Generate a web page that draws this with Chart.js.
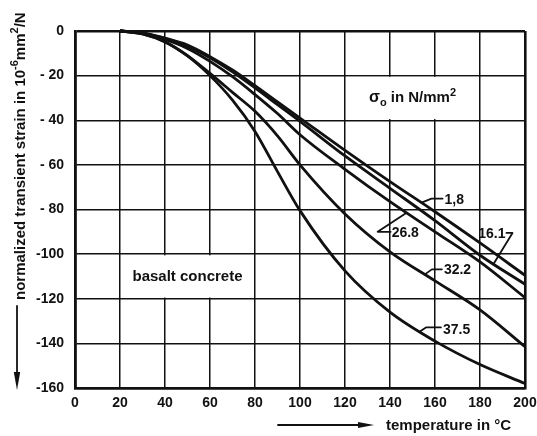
<!DOCTYPE html>
<html>
<head>
<meta charset="utf-8">
<script src="https://cdn.jsdelivr.net/npm/chart.js@4.4.1/dist/chart.umd.min.js"></script>
<style>
  html, body { margin: 0; padding: 0; background: #fff; }
  #wrap { width: 537px; height: 436px; }
</style>
</head>
<body>
<div id="wrap"><canvas id="c" width="537" height="436"></canvas></div>
<script>
// Temperature in °C
const temperatures = [20, 30, 40, 50, 60, 70, 80, 90, 100, 120, 140, 160, 180, 200];

// Normalized transient strain (10^-6 mm²/N) for each initial stress σ0 (N/mm²)
const strain_1_8  = [0, -0.8, -3.2, -6.3, -11.5, -17.5, -24.5, -31.8, -39, -53.5, -67.5, -81, -95, -109.5];
const strain_16_1 = [0, -0.9, -3.3, -6.8, -12, -18.3, -25.5, -33, -40.5, -56, -70.5, -85, -100.5, -113.5];
const strain_26_8 = [0, -1.0, -3.8, -7.8, -13.6, -20.5, -28.5, -37, -46.5, -62, -76.5, -90, -103.5, -119.5];
const strain_32_2 = [0, -1.3, -4.8, -11, -19, -27.5, -36, -47, -60, -82, -99, -112, -125, -141.5];
const strain_37_5 = [0, -1.3, -4.9, -11.2, -20, -31, -45, -63, -80.5, -107.5, -126, -139, -149.5, -158];

const stressLabels = ['1,8', '16.1', '26.8', '32.2', '37.5'];
const seriesValues = [strain_1_8, strain_16_1, strain_26_8, strain_32_2, strain_37_5];

// Axis ranges and tick spacing
const xRange = [0, 200];
const xStep = 20;
const yRange = [-160, 0];
const yStep = 20;

const INK = '#111';
const FONT = '"Liberation Sans", Arial, sans-serif';

// Leader lines: tip sits on the curve at temperature t, path offsets in px from the tip
const leaders = [
  { s: 0, t: 154,   path: [[10, -4], [21, -4]],  tx: 23,  ty: -4, align: 'left'  },
  { s: 2, t: 147.4, path: [[-29, 19], [-16, 19]], tx: -15, ty: 19, align: 'left'  },
  { s: 1, t: 186,   path: [[19, -31], [13, -31]], tx: 12,  ty: -31, align: 'right' },
  { s: 3, t: 155.5, path: [[7, -5], [17, -5]],   tx: 19,  ty: -5, align: 'left'  },
  { s: 4, t: 153.3, path: [[6, -4], [21, -4]],   tx: 23,  ty: -2, align: 'left'  }
];

function valueAt(arr, t) {
  for (let i = 0; i < temperatures.length - 1; i++) {
    const a = temperatures[i], b = temperatures[i + 1];
    if (t >= a && t <= b) {
      return arr[i] + (arr[i + 1] - arr[i]) * (t - a) / (b - a);
    }
  }
  return arr[arr.length - 1];
}

function textRuns(ctx, x, y, runs) {
  // runs: [text, size, dy]
  let cx = x;
  for (const [txt, size, dy] of runs) {
    ctx.font = 'bold ' + size + 'px ' + FONT;
    ctx.fillText(txt, cx, y + dy);
    cx += ctx.measureText(txt).width;
  }
  return cx - x;
}
function runsWidth(ctx, runs) {
  let w = 0;
  for (const [txt, size] of runs) {
    ctx.font = 'bold ' + size + 'px ' + FONT;
    w += ctx.measureText(txt).width;
  }
  return w;
}

function arrow(ctx, x1, y1, x2, y2, headLen, headHalf) {
  const ang = Math.atan2(y2 - y1, x2 - x1);
  const bx = x2 - headLen * Math.cos(ang), by = y2 - headLen * Math.sin(ang);
  ctx.beginPath();
  ctx.moveTo(x1, y1);
  ctx.lineTo(bx, by);
  ctx.stroke();
  ctx.beginPath();
  ctx.moveTo(x2, y2);
  ctx.lineTo(bx + headHalf * Math.sin(ang), by - headHalf * Math.cos(ang));
  ctx.lineTo(bx - headHalf * Math.sin(ang), by + headHalf * Math.cos(ang));
  ctx.closePath();
  ctx.fill();
}

const decorations = {
  id: 'decorations',
  beforeDatasetsDraw(chart) {
    const { ctx, scales: { x, y } } = chart;
    // clear the inner grid lines inside the two caption cells
    ctx.save();
    ctx.fillStyle = '#fff';
    const cells = [[120, 180, -20, -40], [20, 80, -100, -120]];
    for (const [t0, t1, v0, v1] of cells) {
      const px0 = x.getPixelForValue(t0) + 1.2, px1 = x.getPixelForValue(t1) - 1.2;
      const py0 = y.getPixelForValue(v0) + 1.2, py1 = y.getPixelForValue(v1) - 1.2;
      ctx.fillRect(px0, py0, px1 - px0, py1 - py0);
    }
    ctx.restore();
  },
  afterDatasetsDraw(chart) {
    const { ctx, scales: { x, y } } = chart;
    ctx.save();
    ctx.fillStyle = INK;
    ctx.strokeStyle = INK;
    ctx.lineCap = 'round';
    ctx.lineJoin = 'round';

    // curve labels with leaders
    ctx.lineWidth = 1.8;
    ctx.textBaseline = 'middle';
    for (const L of leaders) {
      const px = x.getPixelForValue(L.t);
      const py = y.getPixelForValue(valueAt(seriesValues[L.s], L.t));
      ctx.beginPath();
      ctx.moveTo(px, py);
      for (const [dx, dy] of L.path) ctx.lineTo(px + dx, py + dy);
      ctx.stroke();
      ctx.font = 'bold 14px ' + FONT;
      ctx.textAlign = L.align;
      ctx.fillText(stressLabels[L.s], px + L.tx, py + L.ty + 1);
    }

    // caption cells
    ctx.textAlign = 'left';
    ctx.textBaseline = 'alphabetic';
    const sigRuns = [['σ', 16, 0], ['o', 11, 4], [' in N/mm', 15, 0], ['2', 11, -6]];
    const sw = runsWidth(ctx, sigRuns);
    const scx = (x.getPixelForValue(120) + x.getPixelForValue(180)) / 2;
    textRuns(ctx, scx - sw / 2, y.getPixelForValue(-30) + 4, sigRuns);

    ctx.font = 'bold 15px ' + FONT;
    ctx.textAlign = 'center';
    ctx.fillText('basalt concrete', (x.getPixelForValue(20) + x.getPixelForValue(80)) / 2,
                 y.getPixelForValue(-110) + 5);

    // x axis title with arrow
    ctx.lineWidth = 1.8;
    arrow(ctx, 278, 425, 374, 425, 16, 3);
    ctx.textAlign = 'left';
    ctx.font = 'bold 15px ' + FONT;
    ctx.fillText('temperature in °C', 386, 430);

    // y axis title with arrow, reading upwards
    arrow(ctx, 17, 306, 17, 390, 18, 3.2);
    ctx.save();
    ctx.translate(25, 300);
    ctx.rotate(-Math.PI / 2);
    textRuns(ctx, 0, 0, [
      ['normalized transient strain in 10', 15, 0],
      ['-6', 11, -7],
      ['mm', 15, 0],
      ['2', 11, -7],
      ['/N', 15, 0]
    ]);
    ctx.restore();

    ctx.restore();
  }
};

const lineStyle = {
  borderColor: INK,
  borderWidth: 2.8,
  pointRadius: 0,
  fill: false,
  cubicInterpolationMode: 'monotone',
  clip: 6
};

const datasets = seriesValues.map((vals, i) => Object.assign({
  label: stressLabels[i],
  data: temperatures.map((t, k) => ({ x: t, y: vals[k] }))
}, lineStyle));

const edgeWidth = (ctx, min, max) =>
  (ctx.tick && (ctx.tick.value === min || ctx.tick.value === max)) ? 2.6 : 1.5;

new Chart(document.getElementById('c'), {
  type: 'line',
  data: { datasets },
  plugins: [decorations],
  options: {
    responsive: false,
    animation: false,
    devicePixelRatio: 1,
    layout: { padding: { top: 31, right: 12, left: 0, bottom: 0 } },
    plugins: { legend: { display: false }, tooltip: { enabled: false } },
    scales: {
      x: {
        type: 'linear',
        min: xRange[0], max: xRange[1],
        ticks: {
          stepSize: xStep,
          color: INK,
          padding: 7,
          maxRotation: 0,
          font: { family: FONT, size: 14, weight: 'bold' }
        },
        grid: {
          color: INK,
          drawTicks: false,
          lineWidth: c => edgeWidth(c, xRange[0], xRange[1])
        },
        border: { display: true, color: INK, width: 2.6 },
        afterFit(scale) { scale.height = 48; scale.paddingLeft = 0; scale.paddingRight = 0; }
      },
      y: {
        type: 'linear',
        min: yRange[0], max: yRange[1],
        ticks: {
          stepSize: yStep,
          color: INK,
          padding: 11,
          font: { family: FONT, size: 14, weight: 'bold' },
          callback: v => v === 0 ? '0' : (v > -100 ? '- ' + Math.abs(v) : '-' + Math.abs(v))
        },
        grid: {
          color: INK,
          drawTicks: false,
          lineWidth: c => edgeWidth(c, yRange[0], yRange[1])
        },
        border: { display: true, color: INK, width: 2.6 },
        afterFit(scale) { scale.width = 75; scale.paddingTop = 0; scale.paddingBottom = 0; }
      }
    }
  }
});
</script>
</body>
</html>
